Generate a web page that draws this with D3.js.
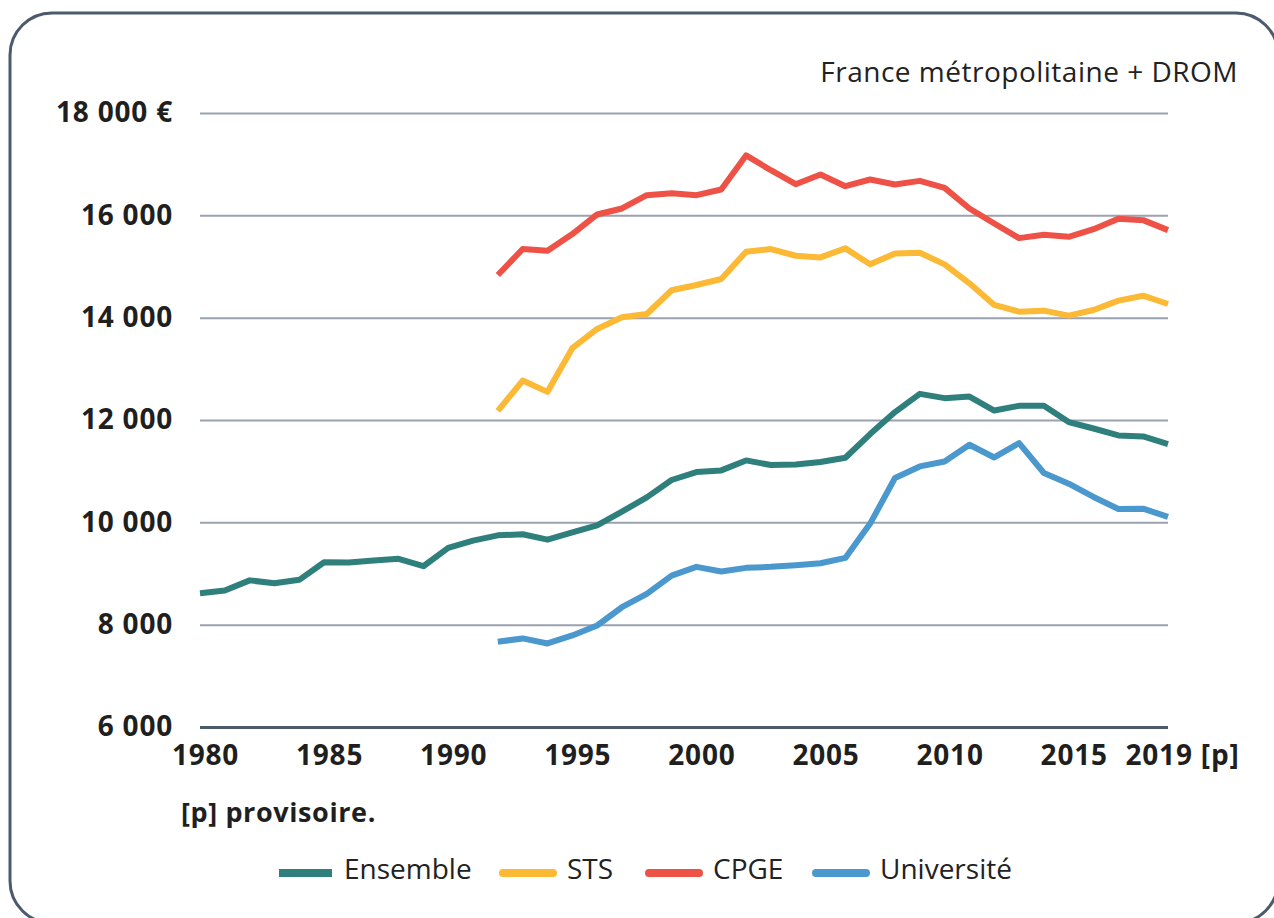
<!DOCTYPE html>
<html>
<head>
<meta charset="utf-8">
<script src="https://cdn.jsdelivr.net/npm/d3@7"></script>
<style>
  body { margin: 0; background: #fff; }
  svg { display: block; font-family: "Open Sans", "Noto Sans", sans-serif; }
</style>
</head>
<body>
<svg width="1274" height="918"></svg>
<script>
// years 1980..2019, the three detailed series start in 1992
var years = d3.range(1980, 2020);
var yearsFrom1992 = d3.range(1992, 2020);

var ensemble = [8615, 8667, 8866, 8810, 8876, 9220, 9214, 9253, 9286, 9142,
                9500, 9643, 9746, 9766, 9662, 9805, 9941, 10209, 10488, 10827,
                10983, 11015, 11210, 11120, 11132, 11178, 11262, 11725, 12154, 12511,
                12427, 12459, 12185, 12277, 12277, 11959, 11834, 11698, 11678, 11530];
var sts = [12180, 12771, 12550, 13403, 13780, 14008, 14072, 14535,
           14638, 14755, 15288, 15341, 15210, 15178, 15354, 15042, 15256, 15268,
           15042, 14671, 14248, 14117, 14137, 14039, 14150, 14332, 14429, 14267];
var cpge = [14833, 15341, 15307, 15633, 16017, 16134, 16394, 16433,
            16394, 16505, 17171, 16882, 16609, 16797, 16570, 16700, 16603, 16673,
            16537, 16134, 15841, 15555, 15620, 15580, 15730, 15932, 15906, 15711];
var universite = [7666, 7731, 7633, 7789, 7984, 8341, 8603, 8960,
                  9130, 9038, 9110, 9130, 9161, 9200, 9305, 9975, 10866, 11093,
                  11190, 11516, 11268, 11549, 10964, 10755, 10496, 10261, 10267, 10105];

var yTicks = [6000, 8000, 10000, 12000, 14000, 16000, 18000];
var xTicks = [1980, 1985, 1990, 1995, 2000, 2005, 2010, 2015, 2019];

var series = [
  { name: "Ensemble", x: years, values: ensemble, color: "#2f7f7c" },
  { name: "STS", x: yearsFrom1992, values: sts, color: "#fbb936" },
  { name: "CPGE", x: yearsFrom1992, values: cpge, color: "#ee5247" },
  { name: "Université", x: yearsFrom1992, values: universite, color: "#4a98cd" }
];

var svg = d3.select("svg");

// card border
svg.append("rect")
    .attr("x", 10).attr("y", 13)
    .attr("width", 1268).attr("height", 910)
    .attr("rx", 42).attr("ry", 42)
    .attr("fill", "none")
    .attr("stroke", "#4b5a6c")
    .attr("stroke-width", 3);

var x = d3.scaleLinear().domain([1980, 2019]).range([200, 1168]);
var y = d3.scaleLinear().domain([6000, 18000]).range([727, 113]);

var fmt = function (v) {
  var s = d3.format(",")(v).replace(/,/g, " ");
  return v === 18000 ? s + " €" : s;
};

// grid lines
var yAxis = svg.append("g")
    .attr("transform", "translate(200,0)")
    .call(d3.axisLeft(y).tickValues(yTicks).tickSize(-968).tickPadding(27).tickFormat(fmt));
yAxis.select(".domain").remove();
yAxis.selectAll(".tick line")
    .attr("stroke", function (d) { return d === 6000 ? "#4b5a6c" : "#9aa1af"; })
    .attr("stroke-width", function (d) { return d === 6000 ? 3 : 2; });
yAxis.selectAll(".tick text")
    .attr("fill", "#1f1f1f")
    .attr("font-size", 28)
    .attr("font-weight", "bold")
    .attr("letter-spacing", 0.8)
    .attr("font-family", "Open Sans, sans-serif");

var xAxis = svg.append("g")
    .attr("transform", "translate(0,727)")
    .call(d3.axisBottom(x).tickValues(xTicks).tickSize(0).tickPadding(18)
      .tickFormat(function (d) { return d === 2019 ? "2019 [p]" : d; }));
xAxis.select(".domain").remove();
xAxis.selectAll(".tick text")
    .attr("fill", "#1f1f1f")
    .attr("font-size", 28)
    .attr("font-weight", "bold")
    .attr("letter-spacing", 0.8)
    .attr("dx", 5)
    .attr("font-family", "Open Sans, sans-serif");
xAxis.selectAll(".tick").filter(function (d) { return d === 2019; })
    .select("text").attr("text-anchor", "start").attr("dx", -43);

var line = d3.line()
    .x(function (d) { return x(d[0]); })
    .y(function (d) { return y(d[1]); });

svg.append("g").selectAll("path")
    .data(series)
    .enter().append("path")
    .attr("d", function (s) { return line(d3.zip(s.x, s.values)); })
    .attr("fill", "none")
    .attr("stroke", function (s) { return s.color; })
    .attr("stroke-width", 6)
    .attr("stroke-linejoin", "round")
    .attr("stroke-linecap", "butt");

svg.append("text")
    .attr("x", 1238).attr("y", 82)
    .attr("text-anchor", "end")
    .attr("font-size", 28)
    .attr("letter-spacing", 0.5)
    .attr("fill", "#222")
    .text("France métropolitaine + DROM");

svg.append("text")
    .attr("x", 181).attr("y", 822)
    .attr("font-size", 27)
    .attr("font-weight", "bold")
    .attr("letter-spacing", 0.6)
    .attr("fill", "#1f1f1f")
    .text("[p] provisoire.");

// legend
var legendX = [279, 499, 645, 812];
var legend = svg.append("g").selectAll("g")
    .data(series)
    .enter().append("g")
    .attr("transform", function (s, i) { return "translate(" + legendX[i] + ",873)"; });
legend.append("rect")
    .attr("x", 0).attr("y", -4)
    .attr("width", function (s, i) { return i === 0 ? 53 : 58; })
    .attr("height", 8)
    .attr("rx", function (s, i) { return i === 0 ? 0 : 4; })
    .attr("fill", function (s) { return s.color; });
legend.append("text")
    .attr("x", function (s, i) { return i === 0 ? 65 : 68; })
    .attr("y", 6)
    .attr("font-size", 28)
    .attr("fill", "#222")
    .text(function (s) { return s.name; });
</script>
</body>
</html>
